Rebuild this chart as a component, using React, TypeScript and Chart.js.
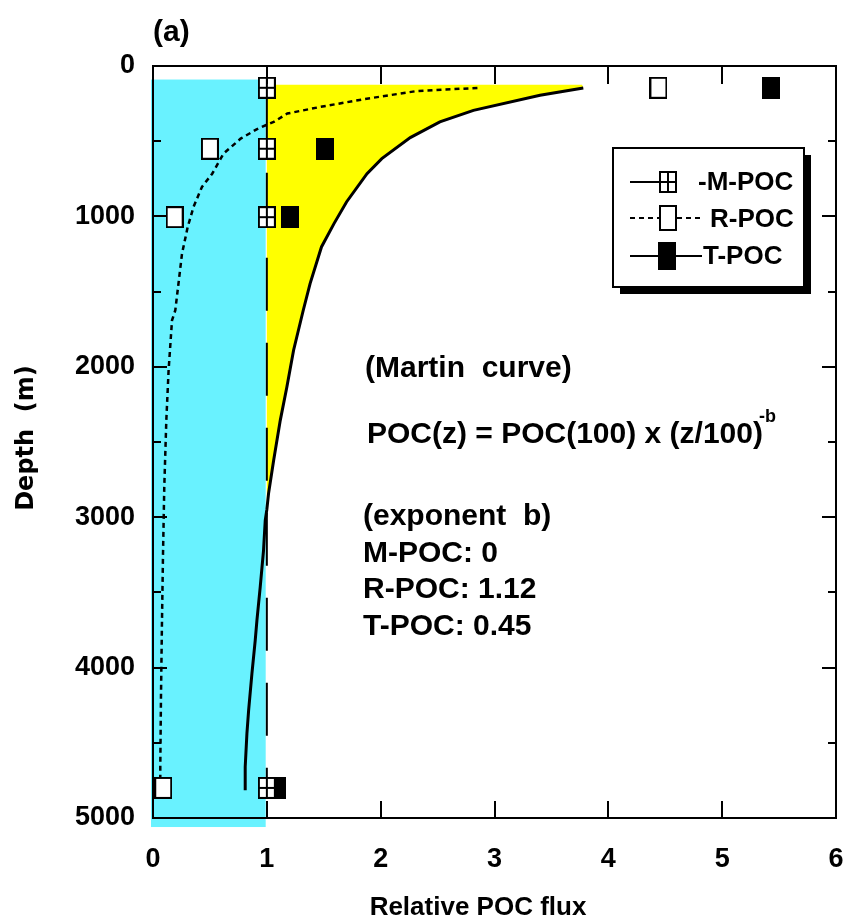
import React, { useEffect, useRef } from 'react';
import { Chart, registerables } from 'chart.js';

Chart.register(...registerables);

// ---------- data ----------
const xTickValues = [0, 1, 2, 3, 4, 5, 6];
const xTickLabels = ['0', '1', '2', '3', '4', '5', '6'];
const yTickValues = [0, 1000, 2000, 3000, 4000, 5000];
const yTickLabels = ['0', '1000', '2000', '3000', '4000', '5000'];
const xMinorTicks = [1, 2, 3, 4, 5];
const depthTicks = [500, 1000, 1500, 2000, 2500, 3000, 3500, 4000, 4500];

const markerDepths = [145, 550, 1005, 4800];
const mPocMarkers = [1, 1, 1, 1];
const rPocMarkers = [4.44, 0.5, 0.19, 0.09];
const tPocMarkers = [5.43, 1.51, 1.2, 1.09];

const mPocLineDepths = [145, 4800];
const mPocLineValues = [1, 1];

const rCurveDepths = [146, 166, 221, 272, 316, 372, 394, 421, 483, 582, 716, 804, 937, 1070, 1247, 1624, 1691, 2023, 2356, 2800, 3242, 3686, 4200, 4661, 4780];
const rCurveValues = [2.85, 2.32, 1.85, 1.47, 1.18, 1.06, 0.99, 0.91, 0.77, 0.62, 0.52, 0.43, 0.356, 0.305, 0.255, 0.196, 0.167, 0.137, 0.117, 0.099, 0.088, 0.079, 0.07, 0.064, 0.064];

const tCurveDepths = [146, 195, 295, 372, 476, 616, 716, 904, 1048, 1203, 1447, 1624, 1890, 2134, 2356, 2622, 2843, 2950, 3021, 3220, 3464, 3686, 3819, 4040, 4284, 4439, 4661, 4816];
const tCurveValues = [3.78, 3.4, 2.815, 2.52, 2.26, 2.01, 1.88, 1.7, 1.59, 1.48, 1.38, 1.32, 1.235, 1.176, 1.118, 1.06, 1.015, 1.0, 0.986, 0.971, 0.942, 0.913, 0.898, 0.869, 0.84, 0.825, 0.81, 0.81];

const cyanFlux = [0, 0.99];
const cyanDepth = [90, 5060];
const yellowTopDepth = 124;
const yellowBase = 1;

const legendLabels = ['-M-POC', 'R-POC', 'T-POC'];
const annotationLines = ['(Martin  curve)', 'POC(z) = POC(100) x (z/100)', '(exponent  b)', 'M-POC: 0', 'R-POC: 1.12', 'T-POC: 0.45'];

const SANS = "'Liberation Sans', Arial, sans-serif";

function makeMarker(kind: string, w: number, h: number) {
  const c = document.createElement('canvas');
  c.width = w;
  c.height = h;
  const g = c.getContext('2d')!;
  if (kind === 't') {
    g.fillStyle = '#000';
    g.fillRect(0, 0, w, h);
    return c;
  }
  g.fillStyle = '#fff';
  g.fillRect(0, 0, w, h);
  g.strokeStyle = '#000';
  g.lineWidth = 2;
  g.strokeRect(1, 1, w - 2, h - 2);
  if (kind === 'm') {
    g.beginPath();
    g.moveTo(w / 2, 0);
    g.lineTo(w / 2, h);
    g.moveTo(0, h / 2);
    g.lineTo(w, h / 2);
    g.stroke();
  }
  return c;
}

export default function App() {
  const ref = useRef<HTMLCanvasElement | null>(null);

  useEffect(() => {
    if (!ref.current) return;
    const mMarker = makeMarker('m', 18, 22);
    const rMarker = makeMarker('r', 18, 22);
    const tMarker = makeMarker('t', 18, 22);
    const mLeg = makeMarker('m', 18, 22);
    const rLeg = makeMarker('r', 18, 26);
    const tLeg = makeMarker('t', 18, 28);

    const toPts = (vals: number[], deps: number[]) => vals.map((v, i) => ({ x: v, y: deps[i] }));

    const bgPlugin = {
      id: 'bgFills',
      beforeDatasetsDraw(chart: any) {
        const { ctx, scales } = chart;
        const x = scales.x;
        const y = scales.y;
        ctx.save();
        ctx.fillStyle = '#69f2ff';
        const x0 = x.getPixelForValue(cyanFlux[0]);
        const x1 = x.getPixelForValue(cyanFlux[1]);
        const y0 = y.getPixelForValue(cyanDepth[0]);
        const y1 = y.getPixelForValue(cyanDepth[1]);
        ctx.fillRect(x0 - 2, y0, x1 - x0 + 2, y1 - y0);
        ctx.fillStyle = '#ffff00';
        ctx.beginPath();
        ctx.moveTo(x.getPixelForValue(yellowBase), y.getPixelForValue(yellowTopDepth));
        ctx.lineTo(x.getPixelForValue(tCurveValues[0] - 0.01), y.getPixelForValue(yellowTopDepth));
        for (let i = 0; i < tCurveValues.length; i++) {
          if (tCurveValues[i] < yellowBase) break;
          ctx.lineTo(x.getPixelForValue(tCurveValues[i]), y.getPixelForValue(tCurveDepths[i]));
        }
        ctx.closePath();
        ctx.fill();
        ctx.restore();
      },
      afterDatasetsDraw(chart: any) {
        const { ctx, chartArea: a, scales } = chart;
        const x = scales.x;
        const y = scales.y;
        ctx.save();
        ctx.strokeStyle = '#000';
        ctx.lineWidth = 2;
        ctx.strokeRect(a.left, a.top, a.right - a.left, a.bottom - a.top);
        ctx.beginPath();
        for (const v of xMinorTicks) {
          const px = Math.round(x.getPixelForValue(v));
          ctx.moveTo(px, a.bottom);
          ctx.lineTo(px, a.bottom - 17);
          ctx.moveTo(px, a.top);
          ctx.lineTo(px, a.top + 18);
        }
        for (const d of depthTicks) {
          const py = Math.round(y.getPixelForValue(d));
          const len = d % 1000 === 0 ? 14 : 8;
          ctx.moveTo(a.left, py);
          ctx.lineTo(a.left + len, py);
          ctx.moveTo(a.right, py);
          ctx.lineTo(a.right - len, py);
        }
        ctx.stroke();
        ctx.restore();
      },
      afterDraw(chart: any) {
        const { ctx } = chart;
        ctx.save();
        ctx.fillStyle = '#000';
        ctx.textAlign = 'left';
        ctx.textBaseline = 'alphabetic';
        ctx.font = `bold 30px ${SANS}`;
        ctx.fillText('(a)', 153, 41);
        ctx.font = `bold 26px ${SANS}`;
        ctx.textAlign = 'center';
        ctx.fillText('Relative POC flux', 478, 915);
        ctx.save();
        ctx.translate(33, 438);
        ctx.rotate(-Math.PI / 2);
        ctx.font = "bold 24px 'DejaVu Sans', sans-serif";
        ctx.fillText('Depth  (m)', 0, 0);
        ctx.restore();
        ctx.textAlign = 'left';
        ctx.font = `bold 30px ${SANS}`;
        ctx.fillText(annotationLines[0], 365, 377);
        ctx.fillText(annotationLines[1], 367, 443);
        const fw = ctx.measureText(annotationLines[1]).width;
        ctx.font = `bold 18px ${SANS}`;
        ctx.fillText('-b', 367 + fw - 4, 422);
        ctx.font = `bold 30px ${SANS}`;
        ctx.fillText(annotationLines[2], 363, 525);
        ctx.fillText(annotationLines[3], 363, 562);
        ctx.fillText(annotationLines[4], 363, 598);
        ctx.fillText(annotationLines[5], 363, 635);
        // legend box
        const bx = 613, by = 148, bw = 191, bh = 139;
        ctx.fillRect(bx + 7, by + 7, bw, bh);
        ctx.fillStyle = '#fff';
        ctx.fillRect(bx, by, bw, bh);
        ctx.strokeStyle = '#000';
        ctx.lineWidth = 2;
        ctx.strokeRect(bx, by, bw, bh);
        const rows = [182, 218, 256];
        ctx.beginPath();
        ctx.moveTo(630, rows[0]);
        ctx.lineTo(660, rows[0]);
        ctx.stroke();
        ctx.drawImage(mLeg, 659, rows[0] - 11);
        ctx.save();
        ctx.setLineDash([5, 4]);
        ctx.beginPath();
        ctx.moveTo(630, rows[1]);
        ctx.lineTo(659, rows[1]);
        ctx.moveTo(677, rows[1]);
        ctx.lineTo(703, rows[1]);
        ctx.stroke();
        ctx.restore();
        ctx.drawImage(rLeg, 659, rows[1] - 13);
        ctx.beginPath();
        ctx.moveTo(630, rows[2]);
        ctx.lineTo(702, rows[2]);
        ctx.stroke();
        ctx.drawImage(tLeg, 658, rows[2] - 14);
        ctx.fillStyle = '#000';
        ctx.font = `bold 26px ${SANS}`;
        ctx.fillText(legendLabels[0], 698, 190);
        ctx.fillText(legendLabels[1], 710, 227);
        ctx.fillText(legendLabels[2], 703, 264);
        ctx.restore();
      },
    };

    const chart = new Chart(ref.current, {
      type: 'scatter',
      data: {
        datasets: [
          { label: 'M-POC', data: toPts(mPocMarkers, markerDepths), pointStyle: mMarker as any, pointRadius: 6, showLine: false, order: 0 },
          { label: 'R-POC', data: toPts(rPocMarkers, markerDepths), pointStyle: rMarker as any, pointRadius: 6, showLine: false, order: 1 },
          { label: 'T-POC', data: toPts(tPocMarkers, markerDepths), pointStyle: tMarker as any, pointRadius: 6, showLine: false, order: 2 },
          {
            label: 'M-POC line',
            data: toPts(mPocLineValues, mPocLineDepths),
            showLine: true,
            borderColor: '#000',
            borderWidth: 2,
            borderDash: [53, 32],
            pointRadius: 0,
            order: 3,
          },
          {
            label: 'R-POC curve',
            data: toPts(rCurveValues, rCurveDepths),
            showLine: true,
            borderColor: '#000',
            borderWidth: 2.5,
            borderDash: [5, 4],
            pointRadius: 0,
            order: 4,
          },
          {
            label: 'T-POC curve',
            data: toPts(tCurveValues, tCurveDepths),
            showLine: true,
            borderColor: '#000',
            borderWidth: 3,
            pointRadius: 0,
            order: 5,
          },
        ],
      },
      options: {
        animation: false,
        responsive: false,
        devicePixelRatio: 1,
        events: [],
        layout: { padding: { top: 66, right: 7, left: 0, bottom: 0 } },
        plugins: { legend: { display: false }, tooltip: { enabled: false } },
        scales: {
          x: {
            type: 'linear',
            min: 0,
            max: 6,
            grid: { display: false, drawTicks: false },
            border: { display: false },
            ticks: {
              stepSize: 1,
              padding: 25,
              color: '#000',
              font: { family: SANS, size: 27, weight: 'bold' },
              callback: (v: any) => xTickLabels[xTickValues.indexOf(v)] ?? '',
            },
            afterFit: (s: any) => {
              s.height = 104;
              s.paddingLeft = 0;
              s.paddingRight = 0;
            },
          },
          y: {
            type: 'linear',
            reverse: true,
            min: 0,
            max: 5000,
            grid: { display: false, drawTicks: false },
            border: { display: false },
            ticks: {
              stepSize: 1000,
              padding: 18,
              color: '#000',
              font: { family: SANS, size: 27, weight: 'bold' },
              callback: (v: any) => yTickLabels[yTickValues.indexOf(v)] ?? '',
            },
            afterFit: (s: any) => {
              s.width = 153;
            },
          },
        },
      },
      plugins: [bgPlugin],
    });
    return () => chart.destroy();
  }, []);

  return (
    <div style={{ position: 'fixed', left: 0, top: 0, width: 843, height: 922, background: '#fff' }}>
      <canvas ref={ref} width={843} height={922} style={{ display: 'block', width: 843, height: 922 }} />
    </div>
  );
}
